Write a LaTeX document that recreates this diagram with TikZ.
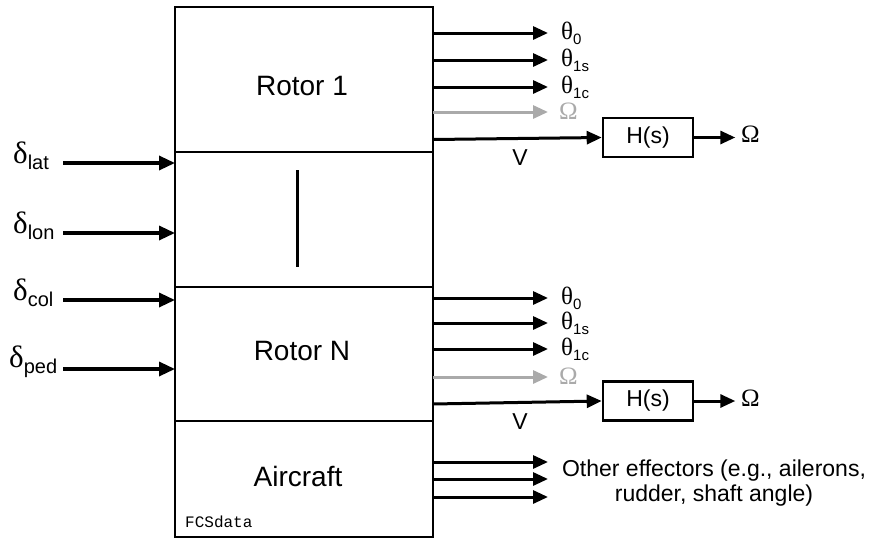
\documentclass[tikz,border=0pt]{standalone}
\usepackage{fontspec}
\setmainfont{Liberation Sans}
\setmonofont{Liberation Mono}
\newfontfamily\gk{Liberation Serif}
\usetikzlibrary{arrows.meta,calc}
\definecolor{lgray}{RGB}{170,170,170}
\newcommand\dlab[1]{{\gk\fontsize{31}{31}\selectfont δ}\raisebox{-6pt}{\fontsize{20}{20}\selectfont #1}}
\newcommand\tlab[1]{{\gk\fontsize{25}{25}\selectfont θ}\raisebox{-5pt}{\fontsize{15}{15}\selectfont #1}}
\newcommand\omg{{\gk\fontsize{25}{25}\selectfont Ω}}
\begin{document}
\begin{tikzpicture}[x=1pt,y=-1pt,
  blk/.style={draw,line width=2.6pt,inner sep=0pt,outer sep=0pt},
  hbox/.style={draw,line width=2.6pt,minimum width=90pt,minimum height=39pt,inner sep=0pt,font=\fontsize{23}{23}\selectfont},
  inarr/.style={line width=3.3pt,-{Triangle[length=16pt,width=14pt]}},
  outarr/.style={line width=3pt,-{Triangle[length=15pt,width=13pt]}},
  grarr/.style={outarr,draw=lgray},
  big/.style={font=\fontsize{28}{28}\selectfont},
  lbl/.style={anchor=west,inner sep=0pt}]
\useasboundingbox (0,0) rectangle (871,539);
% main blocks
\node[blk,minimum width=258pt,minimum height=145pt] (r1) at (304,79.5) {};
\node[blk,minimum width=258pt,minimum height=135pt] (mid) at (304,219.5) {};
\node[blk,minimum width=258pt,minimum height=134pt] (rn) at (304,354) {};
\node[blk,minimum width=258pt,minimum height=116pt] (ac) at (304,479) {};
\node[big] (t1) at (302,86) {Rotor 1};
\node[big] (tn) at (302,351) {Rotor N};
\node[big] (ta) at (298,476) {Aircraft};
\node[anchor=base west,inner sep=0pt,font=\fontsize{16}{16}\selectfont\ttfamily] (fcs) at (185,527) {FCSdata};
\coordinate (vt) at (297,170);
\coordinate (vb) at (297,267);
\draw[line width=3pt] (vt) -- (vb);
% inputs
\node[lbl] (dlat) at (13,156) {\dlab{lat}};
\node[lbl] (dlon) at (13,226) {\dlab{lon}};
\node[lbl] (dcol) at (13,293) {\dlab{col}};
\node[lbl] (dped) at (9,362) {\dlab{ped}};
\coordinate (ilat) at (63,163);
\coordinate (ilon) at (63,233);
\coordinate (icol) at (63,300);
\coordinate (iped) at (63,369);
\draw[inarr] (ilat) -- (ilat -| r1.west);
\draw[inarr] (ilon) -- (ilon -| r1.west);
\draw[inarr] (icol) -- (icol -| r1.west);
\draw[inarr] (iped) -- (iped -| r1.west);
% rotor 1 outputs
\node[lbl] (a0) at (561,33) {\tlab{0}};
\node[lbl] (a1) at (561,60) {\tlab{1s}};
\node[lbl] (a2) at (561,87) {\tlab{1c}};
\node[lbl,text=lgray] (a3) at (559,111) {\omg};
\coordinate (e0) at (548,33);
\coordinate (e1) at (548,60);
\coordinate (e2) at (548,87);
\coordinate (e3) at (548,112);
\draw[outarr] (e0 -| r1.east) -- (e0);
\draw[outarr] (e1 -| r1.east) -- (e1);
\draw[outarr] (e2 -| r1.east) -- (e2);
\draw[grarr] (e3 -| r1.east) -- (e3);
\node[hbox] (h1) at (648,137.5) {H(s)};
\draw[outarr] ($(r1.east)+(0,60)$) -- (h1.west);
\node (v1) at (520,158) {\fontsize{23}{23}\selectfont V};
\node[lbl] (o1) at (741,134) {\omg};
\draw[outarr] (h1.east) -- ++(41,0);
% rotor N outputs
\node[lbl] (b0) at (561,298) {\tlab{0}};
\node[lbl] (b1) at (561,323) {\tlab{1s}};
\node[lbl] (b2) at (561,349) {\tlab{1c}};
\node[lbl,text=lgray] (b3) at (559,376) {\omg};
\coordinate (f0) at (548,298);
\coordinate (f1) at (548,323);
\coordinate (f2) at (548,349);
\coordinate (f3) at (548,377);
\draw[outarr] (f0 -| rn.east) -- (f0);
\draw[outarr] (f1 -| rn.east) -- (f1);
\draw[outarr] (f2 -| rn.east) -- (f2);
\draw[grarr] (f3 -| rn.east) -- (f3);
\node[hbox] (h2) at (648,401) {H(s)};
\draw[outarr] ($(rn.east)+(0,50)$) -- (h2.west);
\node (v2) at (520,422) {\fontsize{23}{23}\selectfont V};
\node[lbl] (o2) at (741,398) {\omg};
\draw[outarr] (h2.east) -- ++(41,0);
% aircraft outputs
\coordinate (g0) at (548,462);
\coordinate (g1) at (548,479);
\coordinate (g2) at (548,497);
\draw[outarr] (g0 -| ac.east) -- (g0);
\draw[outarr] (g1 -| ac.east) -- (g1);
\draw[outarr] (g2 -| ac.east) -- (g2);
\node[align=center,font=\fontsize{23}{25}\selectfont] (oe) at (714,483) {Other effectors (e.g., ailerons,\\rudder, shaft angle)};
\end{tikzpicture}
\end{document}
